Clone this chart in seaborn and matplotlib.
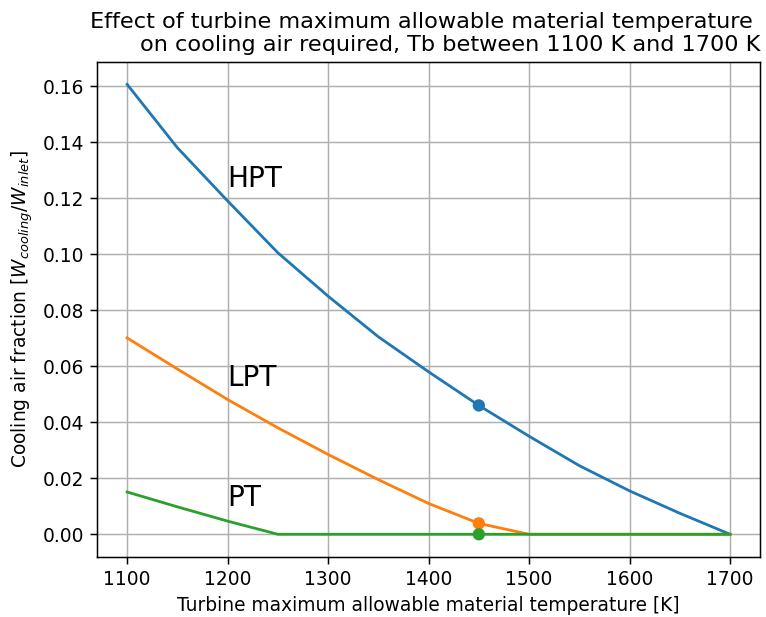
import numpy as np
import pandas as pd
import matplotlib
matplotlib.use("Agg")
import matplotlib.pyplot as plt
import seaborn as sns

# Turbine maximum allowable material temperature [K]
temps = [1100, 1150, 1200, 1250, 1300, 1350, 1400, 1450, 1500, 1550, 1600, 1650, 1700]

# Cooling air fraction per turbine stage
hpt = [0.1606, 0.138, 0.119, 0.1005, 0.085, 0.0705, 0.058, 0.046, 0.035, 0.0245, 0.0155, 0.0075, 0.0]
lpt = [0.0701, 0.059, 0.0481, 0.038, 0.0285, 0.0195, 0.011, 0.0039, 0.0, 0.0, 0.0, 0.0, 0.0]
pt = [0.0151, 0.0098, 0.0047, 0.0, 0.0, 0.0, 0.0, 0.0, 0.0, 0.0, 0.0, 0.0, 0.0]

stages = ["HPT", "LPT", "PT"]
colors = ["#1f77b4", "#ff7f0e", "#2ca02c"]

# Design point highlighted on each curve
design_temp = 1450
design_vals = [0.046, 0.0039, 0.0]

# Label placement for each stage
label_x = [1200, 1200, 1200]
label_y = [0.124, 0.053, 0.010]

df = pd.DataFrame({
    "T": temps * 3,
    "frac": hpt + lpt + pt,
    "stage": [s for s in stages for _ in temps],
})
pts = pd.DataFrame({"T": [design_temp] * 3, "frac": design_vals, "stage": stages})

dpi = 134
fig = plt.figure(figsize=(766 / dpi, 617 / dpi), dpi=dpi)
ax = fig.add_axes([97 / 766, (617 - 556.7) / 617, (760.2 - 97) / 766, (556.7 - 62.0) / 617])

sns.lineplot(data=df, x="T", y="frac", hue="stage", palette=colors,
             linewidth=1.5, legend=False, ax=ax, zorder=2)
sns.scatterplot(data=pts, x="T", y="frac", hue="stage", palette=colors,
                s=44, linewidth=0, legend=False, ax=ax, zorder=3)

for name, x, y in zip(stages, label_x, label_y):
    ax.text(x, y, name, fontsize=15)

ax.set_xticks(np.arange(1100, 1701, 100))
ax.set_yticks(np.arange(0, 0.161, 0.02))
ax.yaxis.set_major_formatter(matplotlib.ticker.FormatStrFormatter("%.2f"))
ax.set_xlim(1070, 1730)
ax.set_ylim(-0.008, 0.1686)
ax.grid(True, color="#b0b0b0", linewidth=0.8)
ax.set_axisbelow(True)

ax.set_xlabel("Turbine maximum allowable material temperature [K]")
ax.set_ylabel("Cooling air fraction [$W_{cooling}/W_{inlet}$]")
ax.set_title("Effect of turbine maximum allowable material temperature \n"
             "on cooling air required, Tb between 1100 K and 1700 K",
             loc="right", fontsize=12)

fig.savefig("out.png", dpi=dpi)
